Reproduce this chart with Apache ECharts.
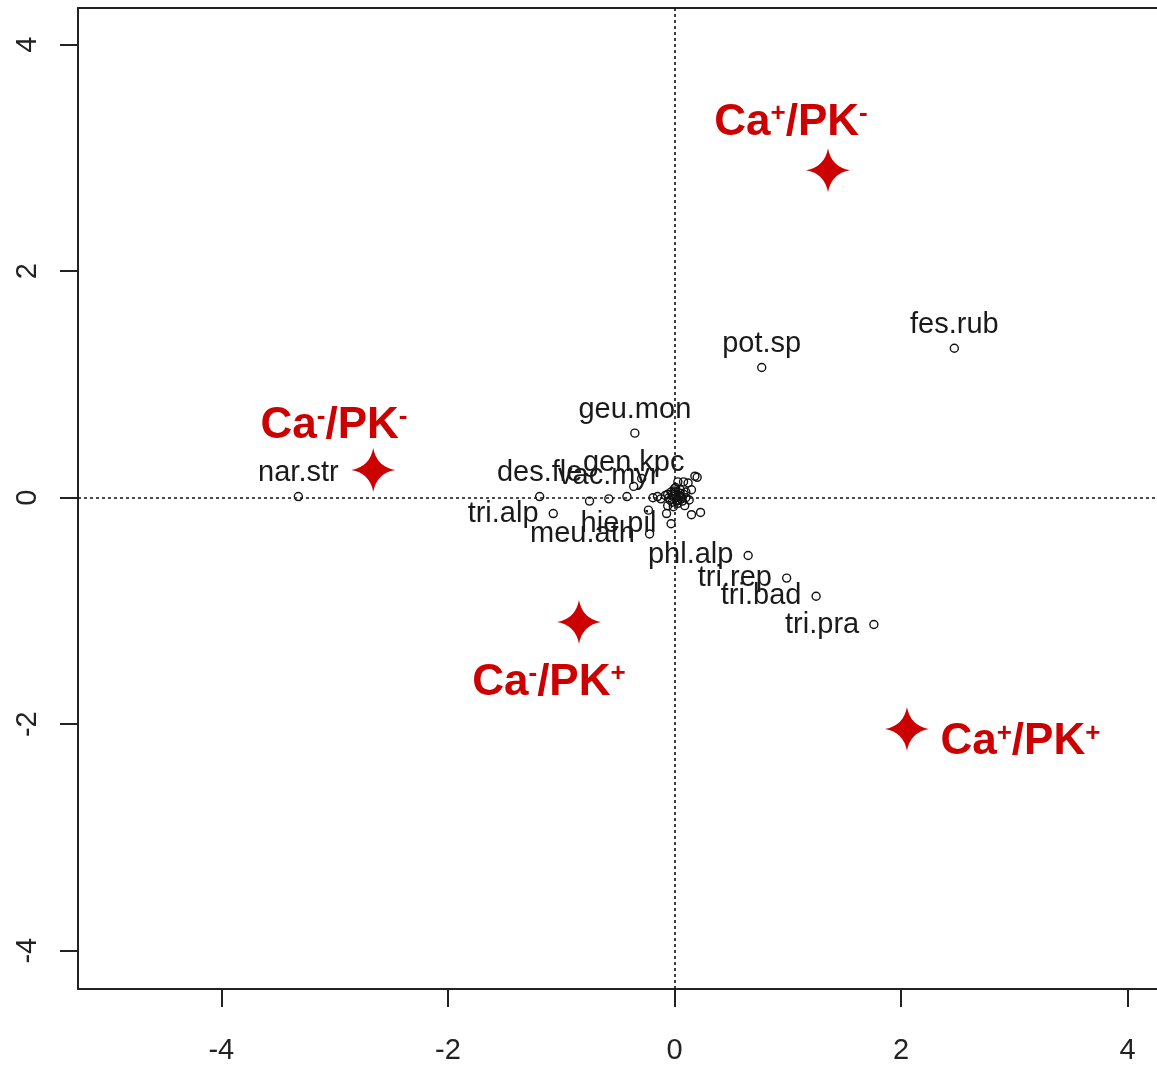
<!DOCTYPE html>
<html>
<head>
<meta charset="utf-8">
<script src="https://cdn.jsdelivr.net/npm/echarts@6/dist/echarts.min.js"></script>
<style>html,body{margin:0;padding:0;background:#fff;}#c{width:1157px;height:1065px;}</style>
</head>
<body>
<div id="c"></div>
<script>
// Tick labels
const xTicks = [-4, -2, 0, 2, 4];
const yTicks = [-4, -2, 0, 2, 4];

// Labelled species
const speciesNames = ['fes.rub','pot.sp','geu.mon','nar.str','des.fle','vac.myr','gen.kpc','phl.alp','tri.rep','tri.bad','tri.pra','tri.alp','meu.ath','hie.pil'];
const speciesX = [2.47, 0.77, -0.35, -3.32, -1.19, -0.58, -0.36, 0.65, 0.99, 1.25, 1.76, -1.07, -0.22, -0.03];
const speciesY = [1.32, 1.15, 0.57, 0.01, 0.01, -0.01, 0.10, -0.51, -0.71, -0.87, -1.12, -0.14, -0.32, -0.23];
const speciesLabelSide = ['top','top','top','top','top','top','top','left','left','left','left','left','left','left'];

// Unlabelled species (central cluster)
const otherX = [0.18, 0.15, 0.03, 0.08, 0.12, -0.19, -0.42, -0.06, 0.09, 0.15, 0.23, -0.75, -0.29, -0.23, -0.07, 0.20, -0.02, 0.02, 0.05, -0.04, 0.00, 0.07, -0.08, 0.03, -0.01, 0.10, -0.12, 0.01,
                0.04, -0.03, 0.06, -0.05, 0.02, 0.00, 0.05, -0.02, 0.08, -0.06, 0.01, 0.03, -0.01, 0.06, 0.13, 0.10, -0.15];
const otherY = [0.19, 0.07, 0.14, 0.14, 0.13, 0.00, 0.01, -0.07, -0.07, -0.15, -0.13, -0.03, 0.17, -0.11, -0.14, 0.18, 0.03, 0.00, 0.04, -0.02, 0.06, -0.03, 0.02, -0.05, -0.08, 0.00, -0.01, 0.09,
                0.01, 0.05, -0.01, 0.00, -0.03, 0.08, 0.07, -0.04, 0.03, 0.03, 0.05, -0.02, 0.01, 0.01, -0.02, 0.05, 0.01];

// Treatment centroids (stars)
const groupNames = ['Ca+/PK-', 'Ca-/PK-', 'Ca-/PK+', 'Ca+/PK+'];
const groupX = [1.355, -2.659, -0.843, 2.052];
const groupY = [2.892, 0.245, -1.098, -2.042];
// Treatment text anchors (centre of text)
const groupTextX = [1.028, -3.005, -1.108, 3.053];
const groupTextY = [3.31, 0.635, -1.635, -2.16];

const starPath = 'path://M0,-10 Q1.5,-1.5 10,0 Q1.5,1.5 0,10 Q-1.5,1.5 -10,0 Q-1.5,-1.5 0,-10 Z';
const red = '#cc0000';

function richName(n) {
  const m = n.match(/^Ca([+-])\/PK([+-])$/);
  return '{m|Ca}{s|' + m[1] + '}{m|/PK}{s|' + m[2] + '}';
}

const chart = echarts.init(document.getElementById('c'), null, {renderer: 'canvas'});
const labelFont = {fontFamily: 'Liberation Sans, Arial, sans-serif', fontSize: 29, color: '#1a1a1a'};
const frameLine = {show: true, onZero: false, lineStyle: {color: '#222', width: 2}};

chart.setOption({
  animation: false,
  backgroundColor: '#fff',
  grid: {left: 78, top: 8, width: 1079, height: 981, show: false},
  xAxis: [{
    type: 'value', min: -5.265, max: 4.259, position: 'bottom',
    axisLine: frameLine,
    splitLine: {show: false},
    axisTick: {show: true, length: 18, inside: false, lineStyle: {color: '#222', width: 2}, customValues: xTicks},
    axisLabel: {show: true, margin: 47, fontFamily: 'Liberation Sans, Arial, sans-serif', fontSize: 29, color: '#222', customValues: xTicks, showMinLabel: true, showMaxLabel: true}
  }, {
    type: 'value', min: -5.265, max: 4.259, position: 'top',
    axisLine: frameLine,
    splitLine: {show: false}, axisTick: {show: false}, axisLabel: {show: false}
  }],
  yAxis: {
    type: 'value', min: -4.338, max: 4.324,
    axisLine: frameLine,
    splitLine: {show: false},
    axisTick: {show: true, length: 18, inside: false, lineStyle: {color: '#222', width: 2}, customValues: yTicks},
    axisLabel: {show: true, margin: 36, rotate: 90, fontFamily: 'Liberation Sans, Arial, sans-serif', fontSize: 29, color: '#222', customValues: yTicks, showMinLabel: true, showMaxLabel: true}
  },
  series: [
    {
      type: 'scatter',
      name: 'axes0',
      data: [],
      silent: true,
      markLine: {
        silent: true, symbol: 'none', label: {show: false},
        lineStyle: {color: '#111', type: [3, 3], width: 1.6, opacity: 1},
        data: [{xAxis: 0}, {yAxis: 0}]
      }
    },
    {
      type: 'scatter',
      name: 'others',
      symbol: 'circle', symbolSize: 8,
      itemStyle: {color: 'rgba(0,0,0,0)', borderColor: '#111', borderWidth: 1.4, opacity: 1},
      data: otherX.map((x, i) => [x, otherY[i]])
    },
    {
      type: 'scatter',
      name: 'species',
      symbol: 'circle', symbolSize: 8,
      itemStyle: {color: 'rgba(0,0,0,0)', borderColor: '#111', borderWidth: 1.4, opacity: 1},
      data: speciesX.map((x, i) => ({
        value: [x, speciesY[i]], name: speciesNames[i],
        label: {position: speciesLabelSide[i], distance: speciesLabelSide[i] === 'left' ? 10 : 4}
      })),
      label: Object.assign({show: true, formatter: p => p.name}, labelFont)
    },
    {
      type: 'scatter',
      name: 'stars',
      symbol: starPath, symbolSize: 44,
      itemStyle: {color: red, opacity: 1},
      data: groupX.map((x, i) => [x, groupY[i]])
    },
    {
      type: 'scatter',
      name: 'groupText',
      symbolSize: 1,
      itemStyle: {color: 'rgba(0,0,0,0)', opacity: 1},
      data: groupTextX.map((x, i) => ({value: [x, groupTextY[i]], name: groupNames[i]})),
      label: {
        show: true, position: 'inside',
        formatter: p => richName(p.name),
        rich: {
          m: {fontFamily: 'Liberation Sans, Arial, sans-serif', fontWeight: 'bold', fontSize: 44, color: red, lineHeight: 44},
          s: {fontFamily: 'Liberation Sans, Arial, sans-serif', fontWeight: 'bold', fontSize: 26, color: red, verticalAlign: 'top', lineHeight: 44}
        }
      }
    }
  ]
});
</script>
</body>
</html>
